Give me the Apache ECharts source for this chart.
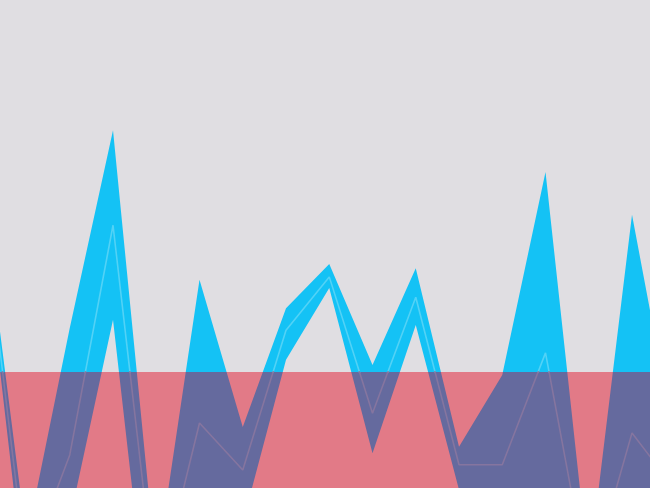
<!DOCTYPE html>
<html>
<head>
<meta charset="utf-8">
<script src="https://cdn.jsdelivr.net/npm/echarts@6/dist/echarts.min.js"></script>
<style>
  html, body { margin: 0; padding: 0; background: #e0dee2; overflow: hidden; }
  #chart { width: 650px; height: 488px; filter: blur(0.7px); }
</style>
</head>
<body>
<div id="chart"></div>
<script>
// Sample positions (index along the x axis)
const xIndex = [-1, 0, 1, 2, 3, 4, 5, 6, 7, 8, 9, 10, 11, 12, 13, 14, 15];
// Upper edge of the band
const upper  = [49.7, -9.0, 27.6, 61.7, -14.1, 35.9, 10.5, 31.0, 38.6, 21.2, 37.9, 7.1, 19.5, 54.5, -14.1, 47.1, 7.6];
// Centre line
const middle = [47.6, -14.1, 5.7, 45.3, -19.3, 11.2, 3.1, 27.2, 36.4, 12.9, 32.9, 4.0, 4.0, 23.3, -16.7, 9.5, -0.3];
// Lower edge of the band
const lower  = [45.3, -19.3, -5.5, 29.0, -36.6, -13.4, -6.0, 22.1, 34.5, 6.0, 28.1, -0.3, -11.6, -7.8, -40.0, -28.1, -36.6];
// Threshold of the lower (pink) zone
const threshold = 20;

const X_MIN = -0.613, X_MAX = 14.416;
const Y_MAX = threshold * 488 / 116;

const GRAY = '#e0dee2', PINK = '#e27a87';
const pairs = arr => arr.map((v, k) => [xIndex[k], v]);

function zoneSeries(gi, bgColor, bandColor, lineColor) {
  return [
    { // upper edge, filled down
      type: 'line', xAxisIndex: gi, yAxisIndex: gi,
      data: pairs(upper), symbol: 'none',
      lineStyle: { width: 0, opacity: 0 },
      areaStyle: { color: bandColor, opacity: 1, origin: 'start' },
      silent: true, z: 2
    },
    { // lower edge, filled with the background colour
      type: 'line', xAxisIndex: gi, yAxisIndex: gi,
      data: pairs(lower), symbol: 'none',
      lineStyle: { width: 0, opacity: 0 },
      areaStyle: { color: bgColor, opacity: 1, origin: 'start' },
      silent: true, z: 3
    },
    { // centre line
      type: 'line', xAxisIndex: gi, yAxisIndex: gi,
      data: pairs(middle), symbol: 'none',
      lineStyle: { color: lineColor, width: 1.6 },
      silent: true, z: 4
    }
  ];
}

const chart = echarts.init(document.getElementById('chart'), null, { renderer: 'canvas' });
chart.setOption({
  animation: false,
  backgroundColor: GRAY,
  grid: [
    { left: 0, right: 0, top: 0, bottom: 116, show: true, backgroundColor: GRAY, borderWidth: 0 },
    { left: 0, right: 0, top: 372, bottom: 0, show: true, backgroundColor: PINK, borderWidth: 0 }
  ],
  xAxis: [
    { type: 'value', gridIndex: 0, min: X_MIN, max: X_MAX, show: false },
    { type: 'value', gridIndex: 1, min: X_MIN, max: X_MAX, show: false }
  ],
  yAxis: [
    { type: 'value', gridIndex: 0, min: threshold, max: Y_MAX, show: false },
    { type: 'value', gridIndex: 1, min: 0, max: threshold, show: false }
  ],
  series: [].concat(
    zoneSeries(0, GRAY, '#14c2f5', '#52d2f6'),
    zoneSeries(1, PINK, '#656a9e', '#85759f')
  )
});
</script>
</body>
</html>
